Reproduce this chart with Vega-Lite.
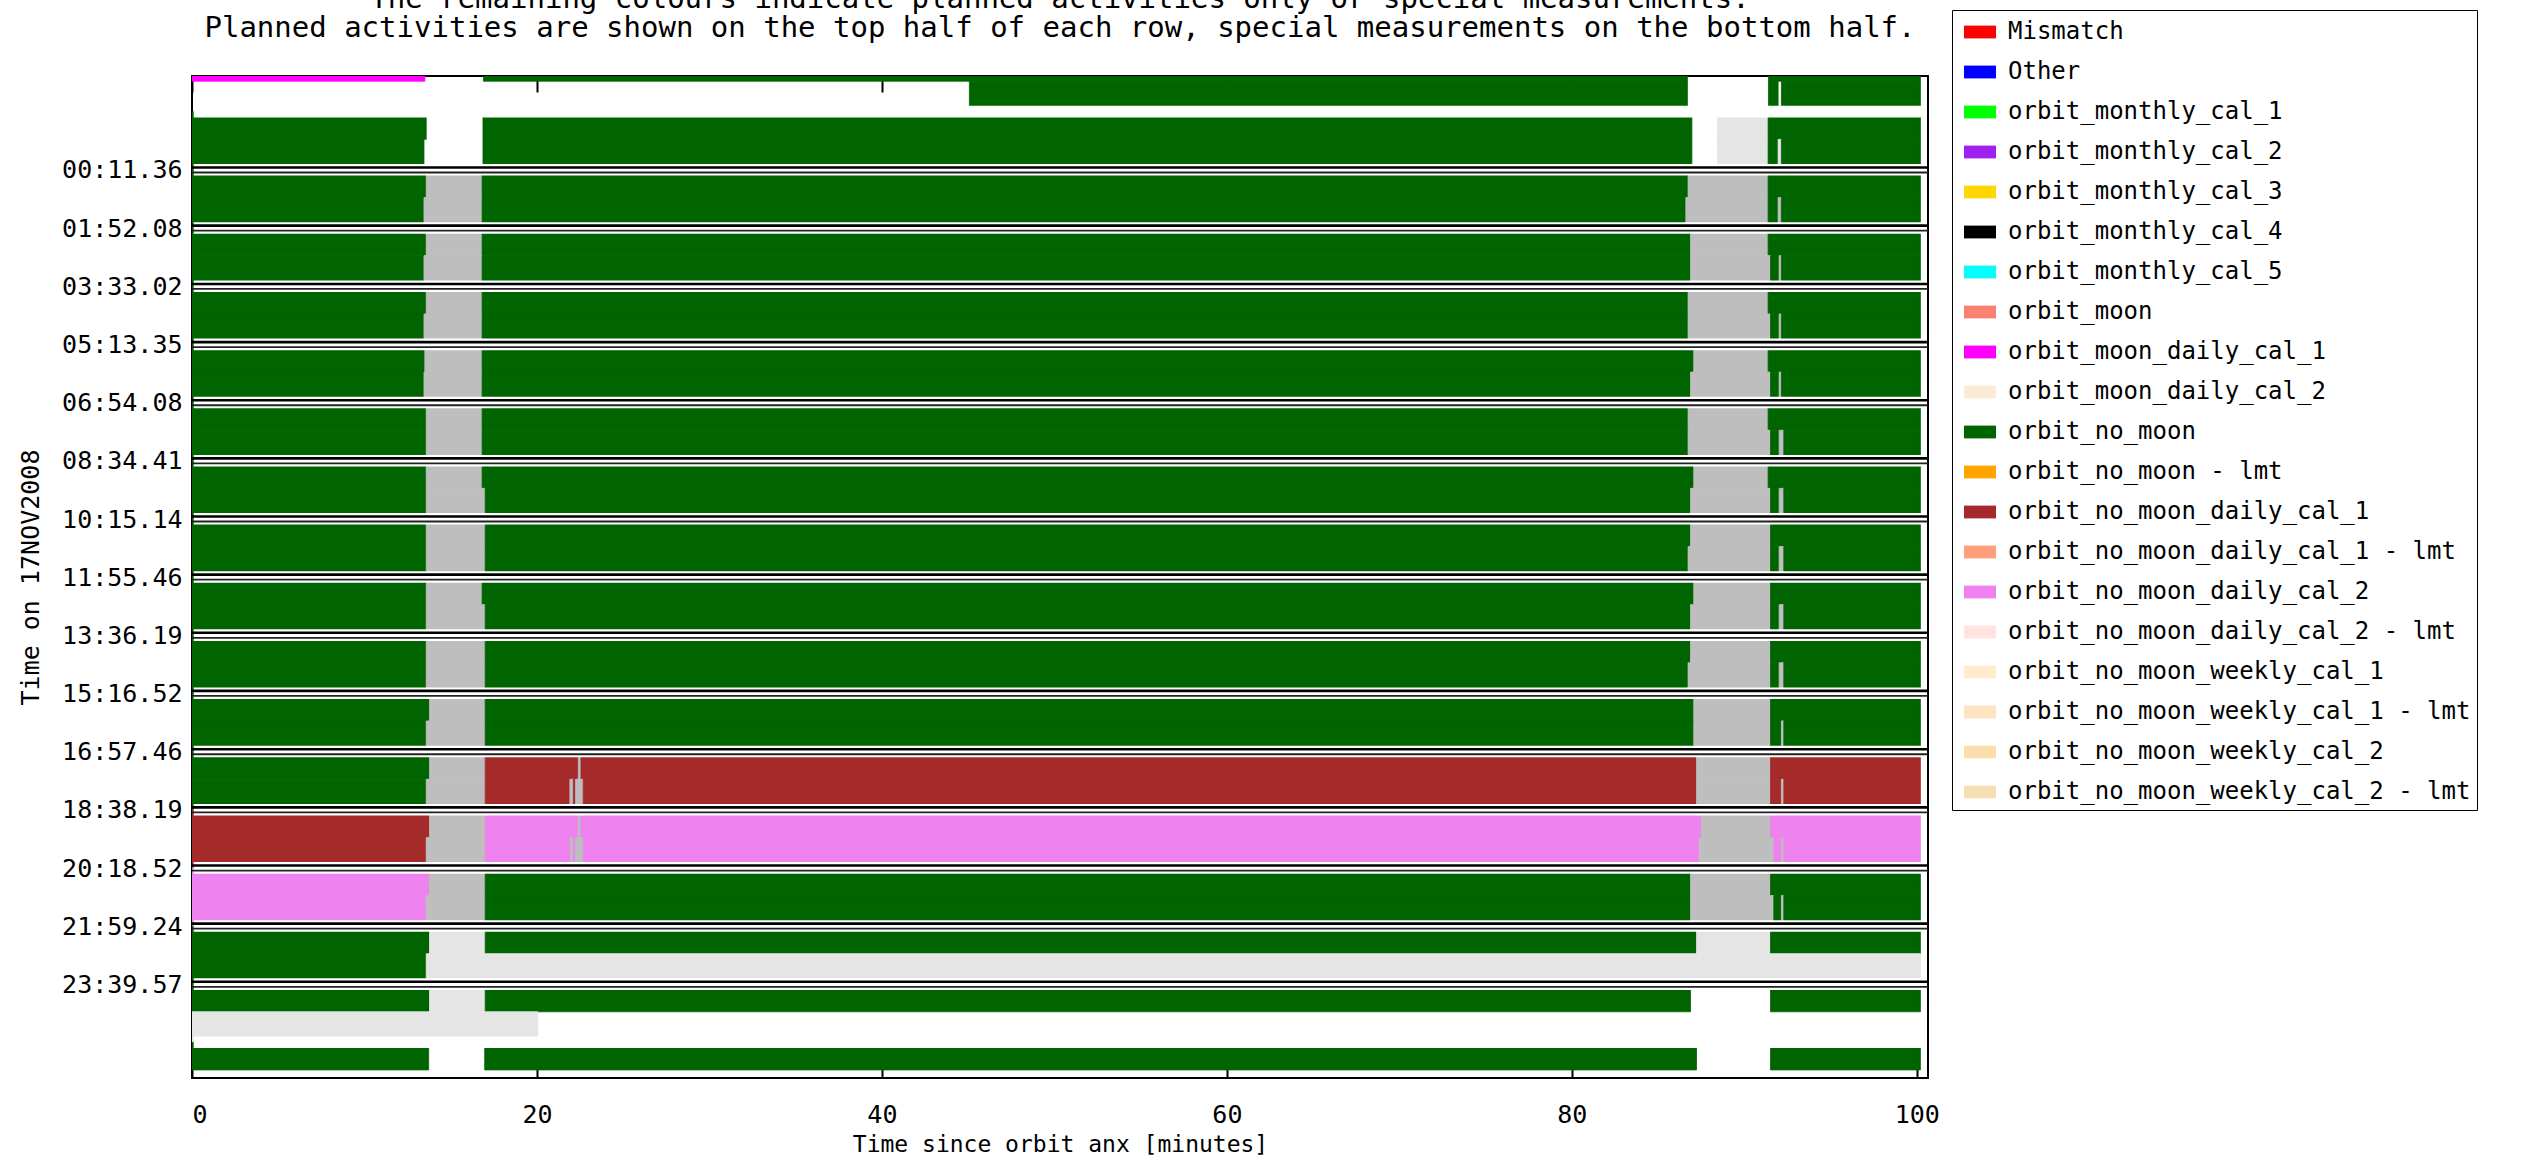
{
  "$schema": "https://vega.github.io/schema/vega-lite/v6.json",
  "width": 1736,
  "height": 1002,
  "autosize": {"type": "none"},
  "padding": {"left": 192, "top": 76, "right": 602, "bottom": 84},
  "background": "white",
  "title": {
    "text": ["The remaining colours indicate planned activities only or special measurements.", "Planned activities are shown on the top half of each row, special measurements on the bottom half."],
    "font": "DejaVu Sans Mono",
    "fontSize": 29,
    "fontWeight": "normal",
    "color": "black",
    "lineHeight": 29,
    "anchor": "middle",
    "frame": "group",
    "offset": -33
  },
  "config": {
    "view": {"stroke": "black", "strokeWidth": 2},
    "font": "DejaVu Sans Mono"
  },
  "datasets": {
    "halves": [
      {"k": "-2P", "y0": -3.15833, "y1": -2.366},
      {"k": "-2S", "y0": -2.366, "y1": -1.4825},
      {"k": "-1P", "y0": -1.4825, "y1": -0.69017},
      {"k": "-1S", "y0": -0.69017, "y1": 0.193333},
      {"k": "0P", "y0": 0.193333, "y1": 0.98566},
      {"k": "0S", "y0": 0.98566, "y1": 1.868889},
      {"k": "1P", "y0": 1.868889, "y1": 2.66122},
      {"k": "1S", "y0": 2.66122, "y1": 3.550556},
      {"k": "2P", "y0": 3.550556, "y1": 4.34289},
      {"k": "2S", "y0": 4.34289, "y1": 5.226389},
      {"k": "3P", "y0": 5.226389, "y1": 6.01872},
      {"k": "3S", "y0": 6.01872, "y1": 6.902222},
      {"k": "4P", "y0": 6.902222, "y1": 7.69455},
      {"k": "4S", "y0": 7.69455, "y1": 8.578056},
      {"k": "5P", "y0": 8.578056, "y1": 9.37039},
      {"k": "5S", "y0": 9.37039, "y1": 10.253889},
      {"k": "6P", "y0": 10.253889, "y1": 11.04622},
      {"k": "6S", "y0": 11.04622, "y1": 11.929444},
      {"k": "7P", "y0": 11.929444, "y1": 12.72177},
      {"k": "7S", "y0": 12.72177, "y1": 13.605278},
      {"k": "8P", "y0": 13.605278, "y1": 14.39761},
      {"k": "8S", "y0": 14.39761, "y1": 15.281111},
      {"k": "9P", "y0": 15.281111, "y1": 16.07344},
      {"k": "9S", "y0": 16.07344, "y1": 16.962778},
      {"k": "10P", "y0": 16.962778, "y1": 17.75511},
      {"k": "10S", "y0": 17.75511, "y1": 18.638611},
      {"k": "11P", "y0": 18.638611, "y1": 19.43094},
      {"k": "11S", "y0": 19.43094, "y1": 20.314444},
      {"k": "12P", "y0": 20.314444, "y1": 21.10677},
      {"k": "12S", "y0": 21.10677, "y1": 21.99},
      {"k": "13P", "y0": 21.99, "y1": 22.78233},
      {"k": "13S", "y0": 22.78233, "y1": 23.665833},
      {"k": "14P", "y0": 23.665833, "y1": 24.45816},
      {"k": "14S", "y0": 24.45816, "y1": 25.34167},
      {"k": "15P", "y0": 25.34167, "y1": 26.134},
      {"k": "15S", "y0": 26.134, "y1": 27.0175}
    ],
    "seps": [
      {"t": -1.4825, "drawn": 0},
      {"t": 0.193333, "drawn": 1},
      {"t": 1.868889, "drawn": 1},
      {"t": 3.550556, "drawn": 1},
      {"t": 5.226389, "drawn": 1},
      {"t": 6.902222, "drawn": 1},
      {"t": 8.578056, "drawn": 1},
      {"t": 10.253889, "drawn": 1},
      {"t": 11.929444, "drawn": 1},
      {"t": 13.605278, "drawn": 1},
      {"t": 15.281111, "drawn": 1},
      {"t": 16.962778, "drawn": 1},
      {"t": 18.638611, "drawn": 1},
      {"t": 20.314444, "drawn": 1},
      {"t": 21.99, "drawn": 1},
      {"t": 23.665833, "drawn": 1},
      {"t": 25.34167, "drawn": 0}
    ],
    "bars": [
      {"k": "-2P", "a": "orbit_moon_daily_cal_1", "s": 0, "e": 13.5},
      {"k": "-2P", "a": "orbit_no_moon", "s": 16.9, "e": 86.7},
      {"k": "-2P", "a": "orbit_no_moon", "s": 91.4, "e": 100.21},
      {"k": "-2S", "a": "orbit_no_moon", "s": 45.07, "e": 86.7},
      {"k": "-2S", "a": "orbit_no_moon", "s": 91.4, "e": 91.96},
      {"k": "-2S", "a": "orbit_no_moon", "s": 92.15, "e": 100.21},

      {"k": "-1P", "a": "orbit_no_moon", "s": 0, "e": 13.58},
      {"k": "-1P", "a": "orbit_no_moon", "s": 16.87, "e": 86.96},
      {"k": "-1P", "a": "planned only", "s": 88.45, "e": 91.38},
      {"k": "-1P", "a": "orbit_no_moon", "s": 91.38, "e": 100.21},
      {"k": "-1S", "a": "orbit_no_moon", "s": 0, "e": 13.45},
      {"k": "-1S", "a": "orbit_no_moon", "s": 16.87, "e": 86.96},
      {"k": "-1S", "a": "planned only", "s": 88.45, "e": 91.38},
      {"k": "-1S", "a": "orbit_no_moon", "s": 91.38, "e": 91.96},
      {"k": "-1S", "a": "planned only", "s": 91.96, "e": 92.15},
      {"k": "-1S", "a": "orbit_no_moon", "s": 92.15, "e": 100.21},

      {"k": "0P", "a": "orbit_no_moon", "s": 0, "e": 13.58},
      {"k": "0P", "a": "unplanned", "s": 13.58, "e": 16.82},
      {"k": "0P", "a": "orbit_no_moon", "s": 16.82, "e": 86.74},
      {"k": "0P", "a": "unplanned", "s": 86.74, "e": 91.38},
      {"k": "0P", "a": "orbit_no_moon", "s": 91.38, "e": 100.21},
      {"k": "0S", "a": "orbit_no_moon", "s": 0, "e": 13.45},
      {"k": "0S", "a": "unplanned", "s": 13.45, "e": 16.82},
      {"k": "0S", "a": "orbit_no_moon", "s": 16.82, "e": 86.61},
      {"k": "0S", "a": "unplanned", "s": 86.61, "e": 91.38},
      {"k": "0S", "a": "orbit_no_moon", "s": 91.38, "e": 91.96},
      {"k": "0S", "a": "unplanned", "s": 91.96, "e": 92.15},
      {"k": "0S", "a": "orbit_no_moon", "s": 92.15, "e": 100.21},

      {"k": "1P", "a": "orbit_no_moon", "s": 0, "e": 13.58},
      {"k": "1P", "a": "unplanned", "s": 13.58, "e": 16.82},
      {"k": "1P", "a": "orbit_no_moon", "s": 16.82, "e": 86.88},
      {"k": "1P", "a": "unplanned", "s": 86.88, "e": 91.38},
      {"k": "1P", "a": "orbit_no_moon", "s": 91.38, "e": 100.21},
      {"k": "1S", "a": "orbit_no_moon", "s": 0, "e": 13.45},
      {"k": "1S", "a": "unplanned", "s": 13.45, "e": 16.82},
      {"k": "1S", "a": "orbit_no_moon", "s": 16.82, "e": 86.88},
      {"k": "1S", "a": "unplanned", "s": 86.88, "e": 91.52},
      {"k": "1S", "a": "orbit_no_moon", "s": 91.52, "e": 92.02},
      {"k": "1S", "a": "unplanned", "s": 92.02, "e": 92.15},
      {"k": "1S", "a": "orbit_no_moon", "s": 92.15, "e": 100.21},

      {"k": "2P", "a": "orbit_no_moon", "s": 0, "e": 13.58},
      {"k": "2P", "a": "unplanned", "s": 13.58, "e": 16.82},
      {"k": "2P", "a": "orbit_no_moon", "s": 16.82, "e": 86.74},
      {"k": "2P", "a": "unplanned", "s": 86.74, "e": 91.38},
      {"k": "2P", "a": "orbit_no_moon", "s": 91.38, "e": 100.21},
      {"k": "2S", "a": "orbit_no_moon", "s": 0, "e": 13.45},
      {"k": "2S", "a": "unplanned", "s": 13.45, "e": 16.82},
      {"k": "2S", "a": "orbit_no_moon", "s": 16.82, "e": 86.74},
      {"k": "2S", "a": "unplanned", "s": 86.74, "e": 91.52},
      {"k": "2S", "a": "orbit_no_moon", "s": 91.52, "e": 92.02},
      {"k": "2S", "a": "unplanned", "s": 92.02, "e": 92.15},
      {"k": "2S", "a": "orbit_no_moon", "s": 92.15, "e": 100.21},

      {"k": "3P", "a": "orbit_no_moon", "s": 0, "e": 13.5},
      {"k": "3P", "a": "unplanned", "s": 13.5, "e": 16.82},
      {"k": "3P", "a": "orbit_no_moon", "s": 16.82, "e": 87.07},
      {"k": "3P", "a": "unplanned", "s": 87.07, "e": 91.38},
      {"k": "3P", "a": "orbit_no_moon", "s": 91.38, "e": 100.21},
      {"k": "3S", "a": "orbit_no_moon", "s": 0, "e": 13.45},
      {"k": "3S", "a": "unplanned", "s": 13.45, "e": 16.82},
      {"k": "3S", "a": "orbit_no_moon", "s": 16.82, "e": 86.88},
      {"k": "3S", "a": "unplanned", "s": 86.88, "e": 91.52},
      {"k": "3S", "a": "orbit_no_moon", "s": 91.52, "e": 92.02},
      {"k": "3S", "a": "unplanned", "s": 92.02, "e": 92.15},
      {"k": "3S", "a": "orbit_no_moon", "s": 92.15, "e": 100.21},

      {"k": "4P", "a": "orbit_no_moon", "s": 0, "e": 13.58},
      {"k": "4P", "a": "unplanned", "s": 13.58, "e": 16.82},
      {"k": "4P", "a": "orbit_no_moon", "s": 16.82, "e": 86.74},
      {"k": "4P", "a": "unplanned", "s": 86.74, "e": 91.38},
      {"k": "4P", "a": "orbit_no_moon", "s": 91.38, "e": 100.21},
      {"k": "4S", "a": "orbit_no_moon", "s": 0, "e": 13.58},
      {"k": "4S", "a": "unplanned", "s": 13.58, "e": 16.82},
      {"k": "4S", "a": "orbit_no_moon", "s": 16.82, "e": 86.74},
      {"k": "4S", "a": "unplanned", "s": 86.74, "e": 91.52},
      {"k": "4S", "a": "orbit_no_moon", "s": 91.52, "e": 92.02},
      {"k": "4S", "a": "unplanned", "s": 92.02, "e": 92.29},
      {"k": "4S", "a": "orbit_no_moon", "s": 92.29, "e": 100.21},

      {"k": "5P", "a": "orbit_no_moon", "s": 0, "e": 13.58},
      {"k": "5P", "a": "unplanned", "s": 13.58, "e": 16.82},
      {"k": "5P", "a": "orbit_no_moon", "s": 16.82, "e": 87.07},
      {"k": "5P", "a": "unplanned", "s": 87.07, "e": 91.38},
      {"k": "5P", "a": "orbit_no_moon", "s": 91.38, "e": 100.21},
      {"k": "5S", "a": "orbit_no_moon", "s": 0, "e": 13.58},
      {"k": "5S", "a": "unplanned", "s": 13.58, "e": 17.0},
      {"k": "5S", "a": "orbit_no_moon", "s": 17.0, "e": 86.88},
      {"k": "5S", "a": "unplanned", "s": 86.88, "e": 91.52},
      {"k": "5S", "a": "orbit_no_moon", "s": 91.52, "e": 92.02},
      {"k": "5S", "a": "unplanned", "s": 92.02, "e": 92.29},
      {"k": "5S", "a": "orbit_no_moon", "s": 92.29, "e": 100.21},

      {"k": "6P", "a": "orbit_no_moon", "s": 0, "e": 13.58},
      {"k": "6P", "a": "unplanned", "s": 13.58, "e": 17.0},
      {"k": "6P", "a": "orbit_no_moon", "s": 17.0, "e": 86.88},
      {"k": "6P", "a": "unplanned", "s": 86.88, "e": 91.52},
      {"k": "6P", "a": "orbit_no_moon", "s": 91.52, "e": 100.21},
      {"k": "6S", "a": "orbit_no_moon", "s": 0, "e": 13.58},
      {"k": "6S", "a": "unplanned", "s": 13.58, "e": 17.0},
      {"k": "6S", "a": "orbit_no_moon", "s": 17.0, "e": 86.74},
      {"k": "6S", "a": "unplanned", "s": 86.74, "e": 91.52},
      {"k": "6S", "a": "orbit_no_moon", "s": 91.52, "e": 92.02},
      {"k": "6S", "a": "unplanned", "s": 92.02, "e": 92.29},
      {"k": "6S", "a": "orbit_no_moon", "s": 92.29, "e": 100.21},

      {"k": "7P", "a": "orbit_no_moon", "s": 0, "e": 13.58},
      {"k": "7P", "a": "unplanned", "s": 13.58, "e": 16.82},
      {"k": "7P", "a": "orbit_no_moon", "s": 16.82, "e": 87.07},
      {"k": "7P", "a": "unplanned", "s": 87.07, "e": 91.52},
      {"k": "7P", "a": "orbit_no_moon", "s": 91.52, "e": 100.21},
      {"k": "7S", "a": "orbit_no_moon", "s": 0, "e": 13.58},
      {"k": "7S", "a": "unplanned", "s": 13.58, "e": 17.0},
      {"k": "7S", "a": "orbit_no_moon", "s": 17.0, "e": 86.88},
      {"k": "7S", "a": "unplanned", "s": 86.88, "e": 91.52},
      {"k": "7S", "a": "orbit_no_moon", "s": 91.52, "e": 92.02},
      {"k": "7S", "a": "unplanned", "s": 92.02, "e": 92.29},
      {"k": "7S", "a": "orbit_no_moon", "s": 92.29, "e": 100.21},

      {"k": "8P", "a": "orbit_no_moon", "s": 0, "e": 13.58},
      {"k": "8P", "a": "unplanned", "s": 13.58, "e": 17.0},
      {"k": "8P", "a": "orbit_no_moon", "s": 17.0, "e": 86.88},
      {"k": "8P", "a": "unplanned", "s": 86.88, "e": 91.52},
      {"k": "8P", "a": "orbit_no_moon", "s": 91.52, "e": 100.21},
      {"k": "8S", "a": "orbit_no_moon", "s": 0, "e": 13.58},
      {"k": "8S", "a": "unplanned", "s": 13.58, "e": 17.0},
      {"k": "8S", "a": "orbit_no_moon", "s": 17.0, "e": 86.74},
      {"k": "8S", "a": "unplanned", "s": 86.74, "e": 91.52},
      {"k": "8S", "a": "orbit_no_moon", "s": 91.52, "e": 92.02},
      {"k": "8S", "a": "unplanned", "s": 92.02, "e": 92.29},
      {"k": "8S", "a": "orbit_no_moon", "s": 92.29, "e": 100.21},

      {"k": "9P", "a": "orbit_no_moon", "s": 0, "e": 13.77},
      {"k": "9P", "a": "unplanned", "s": 13.77, "e": 17.0},
      {"k": "9P", "a": "orbit_no_moon", "s": 17.0, "e": 87.07},
      {"k": "9P", "a": "unplanned", "s": 87.07, "e": 91.52},
      {"k": "9P", "a": "orbit_no_moon", "s": 91.52, "e": 100.21},
      {"k": "9S", "a": "orbit_no_moon", "s": 0, "e": 13.58},
      {"k": "9S", "a": "unplanned", "s": 13.58, "e": 17.0},
      {"k": "9S", "a": "orbit_no_moon", "s": 17.0, "e": 87.07},
      {"k": "9S", "a": "unplanned", "s": 87.07, "e": 91.52},
      {"k": "9S", "a": "orbit_no_moon", "s": 91.52, "e": 92.15},
      {"k": "9S", "a": "unplanned", "s": 92.15, "e": 92.29},
      {"k": "9S", "a": "orbit_no_moon", "s": 92.29, "e": 100.21},

      {"k": "10P", "a": "orbit_no_moon", "s": 0, "e": 13.77},
      {"k": "10P", "a": "unplanned", "s": 13.77, "e": 17.0},
      {"k": "10P", "a": "orbit_no_moon_daily_cal_1", "s": 17.0, "e": 22.4},
      {"k": "10P", "a": "unplanned", "s": 22.4, "e": 22.55},
      {"k": "10P", "a": "orbit_no_moon_daily_cal_1", "s": 22.55, "e": 87.23},
      {"k": "10P", "a": "unplanned", "s": 87.23, "e": 91.52},
      {"k": "10P", "a": "orbit_no_moon_daily_cal_1", "s": 91.52, "e": 100.21},
      {"k": "10S", "a": "orbit_no_moon", "s": 0, "e": 13.58},
      {"k": "10S", "a": "unplanned", "s": 13.58, "e": 17.0},
      {"k": "10S", "a": "orbit_no_moon_daily_cal_1", "s": 17.0, "e": 21.91},
      {"k": "10S", "a": "unplanned", "s": 21.91, "e": 22.11},
      {"k": "10S", "a": "orbit_no_moon_daily_cal_1", "s": 22.11, "e": 22.24},
      {"k": "10S", "a": "unplanned", "s": 22.24, "e": 22.68},
      {"k": "10S", "a": "orbit_no_moon_daily_cal_1", "s": 22.68, "e": 87.23},
      {"k": "10S", "a": "unplanned", "s": 87.23, "e": 91.52},
      {"k": "10S", "a": "orbit_no_moon_daily_cal_1", "s": 91.52, "e": 92.15},
      {"k": "10S", "a": "unplanned", "s": 92.15, "e": 92.29},
      {"k": "10S", "a": "orbit_no_moon_daily_cal_1", "s": 92.29, "e": 100.21},

      {"k": "11P", "a": "orbit_no_moon_daily_cal_1", "s": 0, "e": 13.77},
      {"k": "11P", "a": "unplanned", "s": 13.77, "e": 17.0},
      {"k": "11P", "a": "orbit_no_moon_daily_cal_2", "s": 17.0, "e": 22.4},
      {"k": "11P", "a": "unplanned", "s": 22.4, "e": 22.55},
      {"k": "11P", "a": "orbit_no_moon_daily_cal_2", "s": 22.55, "e": 87.52},
      {"k": "11P", "a": "unplanned", "s": 87.52, "e": 91.52},
      {"k": "11P", "a": "orbit_no_moon_daily_cal_2", "s": 91.52, "e": 100.21},
      {"k": "11S", "a": "orbit_no_moon_daily_cal_1", "s": 0, "e": 13.58},
      {"k": "11S", "a": "unplanned", "s": 13.58, "e": 17.0},
      {"k": "11S", "a": "orbit_no_moon_daily_cal_2", "s": 17.0, "e": 21.95},
      {"k": "11S", "a": "unplanned", "s": 21.95, "e": 22.11},
      {"k": "11S", "a": "orbit_no_moon_daily_cal_2", "s": 22.11, "e": 22.24},
      {"k": "11S", "a": "unplanned", "s": 22.24, "e": 22.68},
      {"k": "11S", "a": "orbit_no_moon_daily_cal_2", "s": 22.68, "e": 87.38},
      {"k": "11S", "a": "unplanned", "s": 87.38, "e": 91.71},
      {"k": "11S", "a": "orbit_no_moon_daily_cal_2", "s": 91.71, "e": 92.15},
      {"k": "11S", "a": "unplanned", "s": 92.15, "e": 92.29},
      {"k": "11S", "a": "orbit_no_moon_daily_cal_2", "s": 92.29, "e": 100.21},

      {"k": "12P", "a": "orbit_no_moon_daily_cal_2", "s": 0, "e": 13.77},
      {"k": "12P", "a": "unplanned", "s": 13.77, "e": 17.0},
      {"k": "12P", "a": "orbit_no_moon", "s": 17.0, "e": 86.88},
      {"k": "12P", "a": "unplanned", "s": 86.88, "e": 91.52},
      {"k": "12P", "a": "orbit_no_moon", "s": 91.52, "e": 100.21},
      {"k": "12S", "a": "orbit_no_moon_daily_cal_2", "s": 0, "e": 13.58},
      {"k": "12S", "a": "unplanned", "s": 13.58, "e": 17.0},
      {"k": "12S", "a": "orbit_no_moon", "s": 17.0, "e": 86.88},
      {"k": "12S", "a": "unplanned", "s": 86.88, "e": 91.71},
      {"k": "12S", "a": "orbit_no_moon", "s": 91.71, "e": 92.15},
      {"k": "12S", "a": "unplanned", "s": 92.15, "e": 92.29},
      {"k": "12S", "a": "orbit_no_moon", "s": 92.29, "e": 100.21},

      {"k": "13P", "a": "orbit_no_moon", "s": 0, "e": 13.77},
      {"k": "13P", "a": "planned only", "s": 13.77, "e": 17.0},
      {"k": "13P", "a": "orbit_no_moon", "s": 17.0, "e": 87.23},
      {"k": "13P", "a": "planned only", "s": 87.23, "e": 91.52},
      {"k": "13P", "a": "orbit_no_moon", "s": 91.52, "e": 100.21},
      {"k": "13S", "a": "orbit_no_moon", "s": 0, "e": 13.58},
      {"k": "13S", "a": "planned only", "s": 13.58, "e": 100.21},

      {"k": "14P", "a": "orbit_no_moon", "s": 0, "e": 13.77},
      {"k": "14P", "a": "planned only", "s": 13.77, "e": 17.0},
      {"k": "14P", "a": "orbit_no_moon", "s": 17.0, "e": 86.88},
      {"k": "14P", "a": "orbit_no_moon", "s": 91.52, "e": 100.21},
      {"k": "14S", "a": "planned only", "s": 0, "e": 20.05},

      {"k": "15P", "a": "orbit_no_moon", "s": 0, "e": 13.72},
      {"k": "15P", "a": "orbit_no_moon", "s": 16.97, "e": 87.23},
      {"k": "15P", "a": "orbit_no_moon", "s": 91.52, "e": 100.21}
    ]
  },
  "resolve": {"axis": {"x": "independent"}},
  "layer": [
    {
      "data": {"name": "bars"},
      "transform": [
        {"lookup": "k", "from": {"data": {"name": "halves"}, "key": "k", "fields": ["y0", "y1"]}}
      ],
      "mark": {"type": "rect", "clip": true, "strokeWidth": 0.8},
      "encoding": {
        "x": {
          "field": "s", "type": "quantitative",
          "scale": {"domain": [0, 100.65], "nice": false, "zero": false},
          "axis": {
            "orient": "bottom",
            "values": [0, 20, 40, 60, 80, 100],
            "domain": false, "grid": false,
            "tickSize": -16, "tickColor": "black", "tickWidth": 2,
            "labelPadding": 40, "labelFont": "DejaVu Sans Mono", "labelFontSize": 25, "labelColor": "black",
            "title": "Time since orbit anx [minutes]", "titleFont": "DejaVu Sans Mono", "titleFontSize": 23,
            "titleFontWeight": "normal", "titleColor": "black", "titlePadding": 6,
            "zindex": 0
          }
        },
        "x2": {"field": "e"},
        "y": {
          "field": "y0", "type": "quantitative",
          "scale": {"domain": [-2.5162, 26.3667], "nice": false, "zero": false, "reverse": true},
          "axis": {
            "values": [0.193333, 1.868889, 3.550556, 5.226389, 6.902222, 8.578056, 10.253889, 11.929444, 13.605278, 15.281111, 16.962778, 18.638611, 20.314444, 21.99, 23.665833],
            "labelExpr": "pad(toString(floor(round(datum.value*3600)/3600)),2,'0','left') + ':' + pad(toString(floor((round(datum.value*3600)%3600)/60)),2,'0','left') + '.' + pad(toString(round(datum.value*3600)%60),2,'0','left')",
            "domain": false, "grid": false, "ticks": false,
            "labelPadding": 10, "labelFont": "DejaVu Sans Mono", "labelFontSize": 25, "labelColor": "black",
            "title": "Time on 17NOV2008", "titleFont": "DejaVu Sans Mono", "titleFontSize": 25,
            "titleFontWeight": "normal", "titleColor": "black", "titlePadding": 18
          }
        },
        "y2": {"field": "y1"},
        "stroke": {
          "field": "a", "type": "nominal",
          "scale": {
            "domain": ["Mismatch", "Other", "orbit_monthly_cal_1", "orbit_monthly_cal_2", "orbit_monthly_cal_3", "orbit_monthly_cal_4", "orbit_monthly_cal_5", "orbit_moon", "orbit_moon_daily_cal_1", "orbit_moon_daily_cal_2", "orbit_no_moon", "orbit_no_moon - lmt", "orbit_no_moon_daily_cal_1", "orbit_no_moon_daily_cal_1 - lmt", "orbit_no_moon_daily_cal_2", "orbit_no_moon_daily_cal_2 - lmt", "orbit_no_moon_weekly_cal_1", "orbit_no_moon_weekly_cal_1 - lmt", "orbit_no_moon_weekly_cal_2", "orbit_no_moon_weekly_cal_2 - lmt", "unplanned", "planned only"],
            "range": ["#ff0000", "#0000ff", "#00ff00", "#a020f0", "#ffd700", "#000000", "#00ffff", "#fa8072", "#ff00ff", "#faebd7", "#006400", "#ffa500", "#a52a2a", "#ffa07a", "#ee82ee", "#ffe4e1", "#ffebcd", "#ffe4c4", "#ffdead", "#f5deb3", "#bebebe", "#e5e5e5"]
          },
          "legend": null
        },
        "color": {
          "field": "a", "type": "nominal",
          "scale": {
            "domain": ["Mismatch", "Other", "orbit_monthly_cal_1", "orbit_monthly_cal_2", "orbit_monthly_cal_3", "orbit_monthly_cal_4", "orbit_monthly_cal_5", "orbit_moon", "orbit_moon_daily_cal_1", "orbit_moon_daily_cal_2", "orbit_no_moon", "orbit_no_moon - lmt", "orbit_no_moon_daily_cal_1", "orbit_no_moon_daily_cal_1 - lmt", "orbit_no_moon_daily_cal_2", "orbit_no_moon_daily_cal_2 - lmt", "orbit_no_moon_weekly_cal_1", "orbit_no_moon_weekly_cal_1 - lmt", "orbit_no_moon_weekly_cal_2", "orbit_no_moon_weekly_cal_2 - lmt", "unplanned", "planned only"],
            "range": ["#ff0000", "#0000ff", "#00ff00", "#a020f0", "#ffd700", "#000000", "#00ffff", "#fa8072", "#ff00ff", "#faebd7", "#006400", "#ffa500", "#a52a2a", "#ffa07a", "#ee82ee", "#ffe4e1", "#ffebcd", "#ffe4c4", "#ffdead", "#f5deb3", "#bebebe", "#e5e5e5"]
          },
          "legend": {
            "orient": "none", "legendX": 1760, "legendY": -66, "direction": "vertical",
            "values": ["Mismatch", "Other", "orbit_monthly_cal_1", "orbit_monthly_cal_2", "orbit_monthly_cal_3", "orbit_monthly_cal_4", "orbit_monthly_cal_5", "orbit_moon", "orbit_moon_daily_cal_1", "orbit_moon_daily_cal_2", "orbit_no_moon", "orbit_no_moon - lmt", "orbit_no_moon_daily_cal_1", "orbit_no_moon_daily_cal_1 - lmt", "orbit_no_moon_daily_cal_2", "orbit_no_moon_daily_cal_2 - lmt", "orbit_no_moon_weekly_cal_1", "orbit_no_moon_weekly_cal_1 - lmt", "orbit_no_moon_weekly_cal_2", "orbit_no_moon_weekly_cal_2 - lmt"],
            "title": null,
            "symbolType": "M-1,-0.4H1V0.4H-1Z", "symbolSize": 1024, "symbolStrokeWidth": 0, "symbolOpacity": 1,
            "symbolOffset": 6,
            "labelFont": "DejaVu Sans Mono", "labelFontSize": 24, "labelColor": "black", "labelOffset": 12, "labelLimit": 0,
            "rowPadding": 12, "padding": 6,
            "strokeColor": "black", "fillColor": "white"
          }
        }
      }
    },
    {
      "data": {"name": "seps"},
      "mark": {"type": "rule", "color": "white", "strokeWidth": 11.6, "yOffset": -0.2},
      "encoding": {
        "y": {"field": "t", "type": "quantitative"},
        "x": {
          "datum": 0.1, "type": "quantitative",
          "axis": {
            "orient": "top", "values": [0, 20, 40, 60, 80, 100],
            "labels": false, "domain": false, "grid": false, "title": null,
            "tickSize": -16, "tickColor": "black", "tickWidth": 2, "zindex": 0
          }
        },
        "x2": {"datum": 100.55}
      }
    },
    {
      "data": {"name": "seps"},
      "transform": [{"filter": "datum.drawn == 1"}],
      "mark": {"type": "rule", "color": "black", "strokeWidth": 2.6, "yOffset": -2.5},
      "encoding": {"y": {"field": "t", "type": "quantitative"}}
    },
    {
      "data": {"name": "seps"},
      "transform": [{"filter": "datum.drawn == 1"}],
      "mark": {"type": "rule", "color": "#222222", "strokeWidth": 1.8, "yOffset": 2.5},
      "encoding": {"y": {"field": "t", "type": "quantitative"}}
    }
  ]
}
